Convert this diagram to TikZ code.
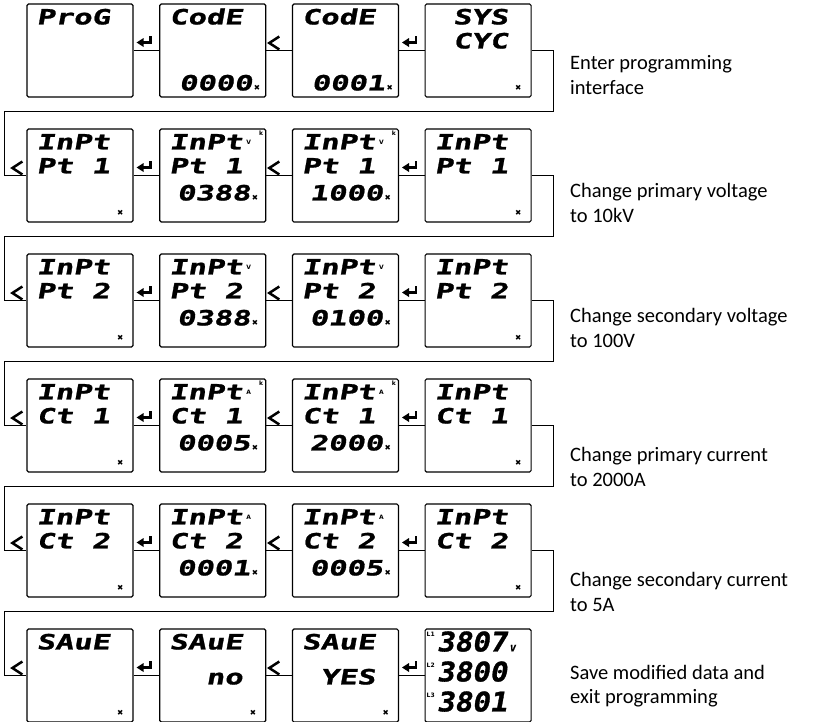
\documentclass[tikz,border=0pt]{standalone}
\usepackage{fontspec}
\setmainfont{Carlito}
\newfontfamily\lcdfont{DejaVu Sans Mono}[FakeStretch=1.45, FakeSlant=0.18, FakeBold=1.2]
\newfontfamily\lcdbigfont{DejaVu Sans Mono}[FakeStretch=1.08, FakeSlant=0.18, FakeBold=1.2]
\newfontfamily\keyfont{DejaVu Sans}
\newcommand{\lcdmark}{{\kern1.5pt\keyfont\bfseries\fontsize{7.5}{7.5}\selectfont ✖}}
\usetikzlibrary{positioning}

\begin{document}
\begin{tikzpicture}[node distance=125pt and 132.7pt, on grid,
    lcd/.style={draw, rounded corners=1.5pt, line width=1.2pt, minimum width=106pt, minimum height=93pt, inner sep=0pt},
    lcdtext/.style={inner sep=0pt, font=\fontsize{21}{21}\lcdfont\bfseries},
    lcdbig/.style={inner sep=0pt, font=\fontsize{27}{27}\lcdbigfont\bfseries},
    small/.style={inner sep=0pt, font=\fontsize{6}{6}\keyfont\bfseries},
    lcdA/.style={label={[lcdtext, anchor=base west, xshift=10pt, yshift=-21pt]north west:#1}},
    lcdB/.style={label={[lcdtext, anchor=base west, xshift=10pt, yshift=-45pt]north west:#1}},
    lcdlowB/.style={label={[lcdtext, anchor=base west, xshift=10pt, yshift=-56pt]north west:#1}},
    lcdC/.style={label={[lcdtext, anchor=base east, xshift=-8pt, yshift=-72pt]north east:#1}},
    lcdlowC/.style={label={[lcdtext, anchor=base east, xshift=-6pt, yshift=-87pt]north east:#1}},
    lone/.style={label={[inner sep=0pt, anchor=base east, xshift=-10pt, yshift=-87pt]north east:\lcdmark}},
    volt/.style={label={[small, anchor=base west, xshift=87pt, yshift=-16pt]north west:V}},
    amp/.style={label={[small, anchor=base west, xshift=87pt, yshift=-16pt]north west:A}},
    kilo/.style={label={[small, anchor=north east, xshift=-3pt, yshift=-2pt]north east:k}},
    bigA/.style={label={[lcdbig, anchor=base west, xshift=12pt, yshift=-23pt]north west:#1}},
    bigB/.style={label={[lcdbig, anchor=base west, xshift=12pt, yshift=-53pt]north west:#1}},
    bigC/.style={label={[lcdbig, anchor=base west, xshift=12pt, yshift=-83pt]north west:#1}},
    phases/.style={label={[small, anchor=north west, xshift=2pt, yshift=-4pt]north west:L1},
                   label={[small, anchor=north west, xshift=2pt, yshift=-34pt]north west:L2},
                   label={[small, anchor=north west, xshift=2pt, yshift=-64pt]north west:L3}},
    conn/.style={line width=0.8pt},
    enterkey/.pic={\fill (0,0) -- (7pt,4.5pt) -- (7pt,-4.5pt) -- cycle;
                   \draw[line width=2.8pt] (6pt,0) -| (14pt,7pt);},
    leftkey/.pic={\draw[line width=2.5pt, line join=miter] (10pt,6.5pt) -- (0,0) -- (10pt,-6.5pt);},
    note/.style={anchor=west, align=left, inner sep=0pt, font=\fontsize{20.5}{24.5}\selectfont}]
    \useasboundingbox (0,0) rectangle (816pt,-721pt);

    % displays, one row per step
    \node[lcd, lcdA=ProG] (B11) at (80pt,-50.5pt) {};
    \node[lcd, lcdA=CodE, lcdlowC={0000\lcdmark}] (B12) [right=of B11] {};
    \node[lcd, lcdA=CodE, lcdlowC={0001\lcdmark}] (B13) [right=of B12] {};
    \node[lcd, lcdA={\phantom{0}SYS}, lcdB={\phantom{0}CYC}, lone] (B14) [right=of B13] {};

    \node[lcd, lcdA=InPt, lcdB={Pt\phantom{0}1}, lone] (B21) [below=of B11] {};
    \node[lcd, lcdA=InPt, volt, kilo, lcdB={Pt\phantom{0}1}, lcdC={0388\lcdmark}] (B22) [right=of B21] {};
    \node[lcd, lcdA=InPt, volt, kilo, lcdB={Pt\phantom{0}1}, lcdC={1000\lcdmark}] (B23) [right=of B22] {};
    \node[lcd, lcdA=InPt, lcdB={Pt\phantom{0}1}, lone] (B24) [right=of B23] {};

    \node[lcd, lcdA=InPt, lcdB={Pt\phantom{0}2}, lone] (B31) [below=of B21] {};
    \node[lcd, lcdA=InPt, volt, lcdB={Pt\phantom{0}2}, lcdC={0388\lcdmark}] (B32) [right=of B31] {};
    \node[lcd, lcdA=InPt, volt, lcdB={Pt\phantom{0}2}, lcdC={0100\lcdmark}] (B33) [right=of B32] {};
    \node[lcd, lcdA=InPt, lcdB={Pt\phantom{0}2}, lone] (B34) [right=of B33] {};

    \node[lcd, lcdA=InPt, lcdB={Ct\phantom{0}1}, lone] (B41) [below=of B31] {};
    \node[lcd, lcdA=InPt, amp, kilo, lcdB={Ct\phantom{0}1}, lcdC={0005\lcdmark}] (B42) [right=of B41] {};
    \node[lcd, lcdA=InPt, amp, kilo, lcdB={Ct\phantom{0}1}, lcdC={2000\lcdmark}] (B43) [right=of B42] {};
    \node[lcd, lcdA=InPt, lcdB={Ct\phantom{0}1}, lone] (B44) [right=of B43] {};

    \node[lcd, lcdA=InPt, lcdB={Ct\phantom{0}2}, lone] (B51) [below=of B41] {};
    \node[lcd, lcdA=InPt, amp, lcdB={Ct\phantom{0}2}, lcdC={0001\lcdmark}] (B52) [right=of B51] {};
    \node[lcd, lcdA=InPt, amp, lcdB={Ct\phantom{0}2}, lcdC={0005\lcdmark}] (B53) [right=of B52] {};
    \node[lcd, lcdA=InPt, lcdB={Ct\phantom{0}2}, lone] (B54) [right=of B53] {};

    \node[lcd, lcdA=SAuE, lone] (B61) [below=of B51] {};
    \node[lcd, lcdA=SAuE, lcdlowB={\phantom{00}no}, lone] (B62) [right=of B61] {};
    \node[lcd, lcdA=SAuE, lcdlowB={\phantom{0}YES}, lone] (B63) [right=of B62] {};
    \node[lcd, phases, bigA={3807{\kern2.5pt\fontsize{9}{9}\selectfont V}}, bigB=3800, bigC=3801] (B64) [right=of B63] {};

    % what each row does
    \node[note] (T1) at (570pt,-75pt) {Enter programming\\interface};
    \node[note] (T2) at (570pt,-203pt) {Change primary voltage\\to 10kV};
    \node[note] (T3) at (570pt,-328pt) {Change secondary voltage\\to 100V};
    \node[note] (T4) at (570pt,-467pt) {Change primary current\\to 2000A};
    \node[note] (T5) at (570pt,-592pt) {Change secondary current\\to 5A};
    \node[note] (T6) at (570pt,-686pt) {Save modified data and\\exit programming};

    % keys between the displays
    \foreach \r in {1,...,6} {
        \draw[conn] (B\r1) -- (B\r2) (B\r2) -- (B\r3) (B\r3) -- (B\r4);
        \pic at ([xshift=3pt, yshift=8pt]B\r1.east) {enterkey};
        \pic at ([xshift=3pt, yshift=7.5pt]B\r2.east) {leftkey};
        \pic at ([xshift=3pt, yshift=8pt]B\r3.east) {enterkey};
    }
    \foreach \r/\n in {1/2,2/3,3/4,4/5,5/6} {
        \draw[conn] (B\r4.east) -- ++(22pt,0) -- ++(0,-61pt) -| ([xshift=-22pt]B\n1.west) -- (B\n1.west);
        \pic at ([xshift=-14pt, yshift=7.5pt]B\n1.west) {leftkey};
    }
\end{tikzpicture}
\end{document}
